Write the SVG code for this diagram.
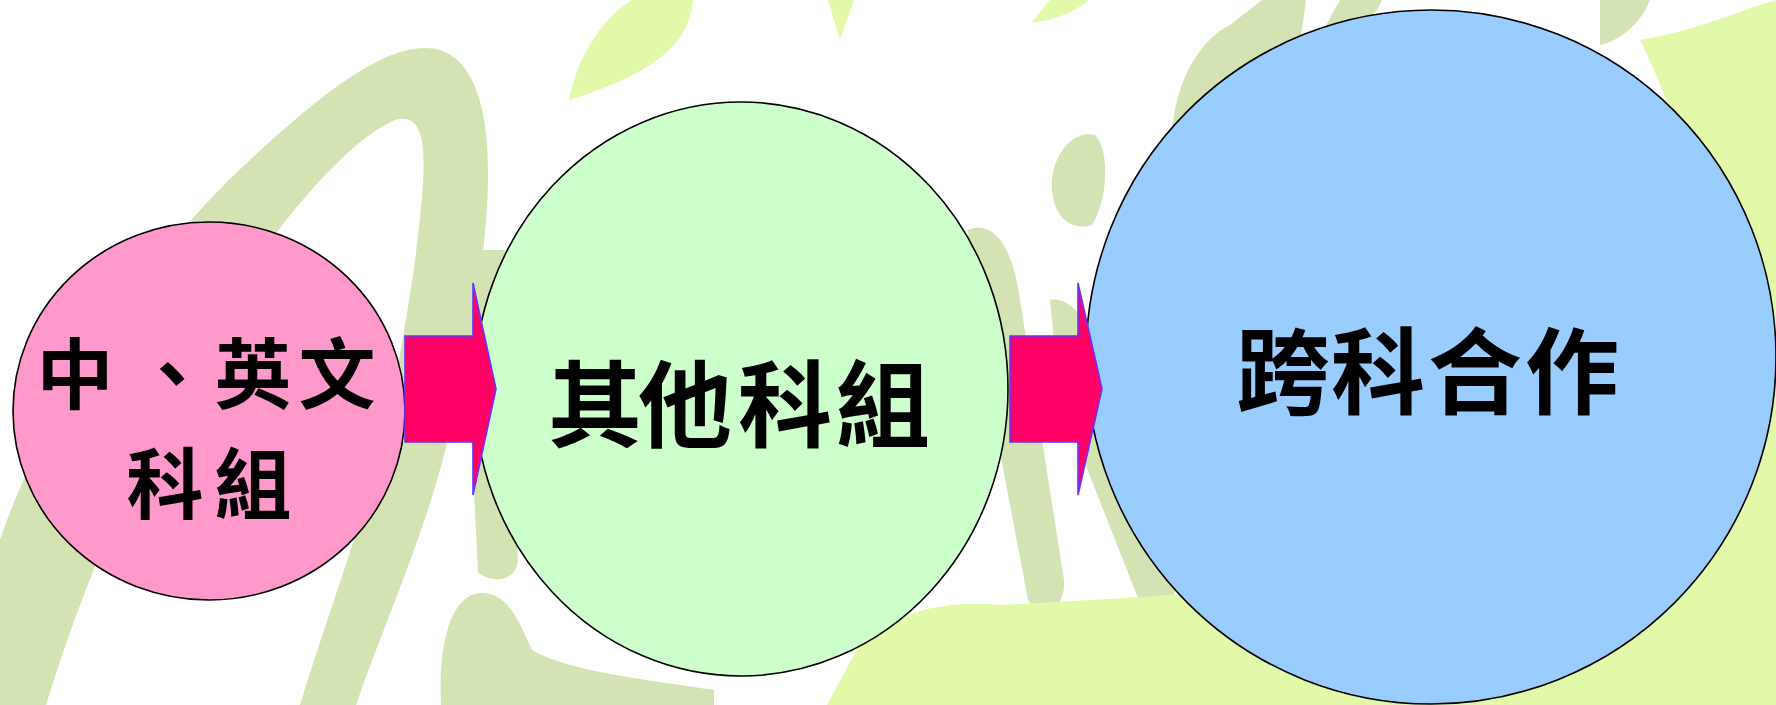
<svg xmlns="http://www.w3.org/2000/svg" width="1776" height="705" viewBox="0 0 1776 705">
<style>
.olive{fill:#d3e3b3}
.lime{fill:#e2f9aa}
.node{stroke:#000;stroke-width:1.6}
.arrow{fill:#ff0066;stroke:#6633ff;stroke-width:1.6;stroke-linejoin:miter}
.lbl{font-family:"Noto Sans CJK TC","Noto Sans CJK SC",sans-serif;font-weight:700;fill:#000;text-anchor:middle;dominant-baseline:central}
</style>
<rect width="1776" height="705" fill="#ffffff"/>
<g id="background">
<path class="olive" fill-rule="evenodd" d="M0,705 L0,540 C40,420 140,260 250,160 C320,95 380,48 425,48 C470,48 488,100 488,170 C488,260 470,330 452,420 C432,520 385,620 356,705 Z M46,705 C90,560 170,380 260,255 C310,185 360,135 395,120 C420,112 426,140 423,180 C419,250 406,320 392,400 C372,500 332,600 300,705 Z"/>
<path class="olive" d="M441,705 C438,640 452,595 480,593 C508,592 518,620 532,650 C570,672 650,680 714,690 L714,705 Z"/>
<path class="olive" d="M462,250 L505,250 L518,560 C516,582 492,584 478,572 Z"/>
<path class="olive" d="M968,230 C990,220 1012,240 1020,300 L1064,580 C1066,612 1040,618 1028,600 L975,320 Z"/>
<path class="olive" d="M1050,300 C1075,295 1095,330 1110,400 L1176,580 C1176,612 1150,616 1138,598 L1060,400 Z"/>
<path class="olive" d="M1052,180 C1055,150 1075,130 1095,135 C1110,150 1108,200 1092,225 C1070,232 1050,215 1052,180 Z"/>
<path class="olive" d="M1172,135 C1175,80 1200,40 1230,25 L1262,0 L1306,0 C1300,50 1290,95 1270,135 Z"/>
<path class="olive" d="M1318,40 L1340,0 L1382,0 C1375,20 1350,35 1318,40 Z"/>
<path class="olive" d="M1600,0 L1650,0 C1640,25 1620,40 1600,45 Z"/>
<path class="lime" d="M827,705 L862,640 C900,610 950,600 1000,605 C1100,600 1300,590 1500,560 C1600,540 1700,510 1776,470 L1776,705 Z"/>
<path class="lime" d="M1640,40 C1700,30 1740,10 1776,0 L1776,480 L1700,500 C1720,380 1720,200 1640,40 Z"/>
<path class="lime" d="M569,100 C578,50 610,12 632,0 L693,0 C690,40 660,72 569,100 Z"/>
<path class="lime" d="M828,0 L854,0 L840,40 Z"/>
<path class="lime" d="M1031,23 L1050,0 L1089,0 C1072,14 1052,20 1031,23 Z"/>
</g>
<g id="node-1">
<ellipse class="node" cx="209" cy="411" rx="196" ry="189" fill="#ff99cc"/>
<text class="lbl" font-size="77" x="75 172 253 337" y="369">中、英文</text>
<text class="lbl" font-size="77" x="165 253" y="479">科組</text>
</g>
<g id="node-2">
<ellipse class="node" cx="741" cy="389" rx="267" ry="287" fill="#ccffcc"/>
<text class="lbl" font-size="94" x="595 685 785 883" y="399">其他科組</text>
</g>
<g id="node-3">
<ellipse class="node" cx="1431" cy="357" rx="345" ry="347" fill="#99ccff"/>
<text class="lbl" font-size="94" x="1283 1378 1475 1572" y="366">跨科合作</text>
</g>
<g id="connectors">
<polygon class="arrow" points="405,336 473,336 473,283 496,389 473,495 473,442 405,442"/>
<polygon class="arrow" points="1010,336 1078,336 1078,283 1102,389 1078,495 1078,442 1010,442"/>
</g>
</svg>
